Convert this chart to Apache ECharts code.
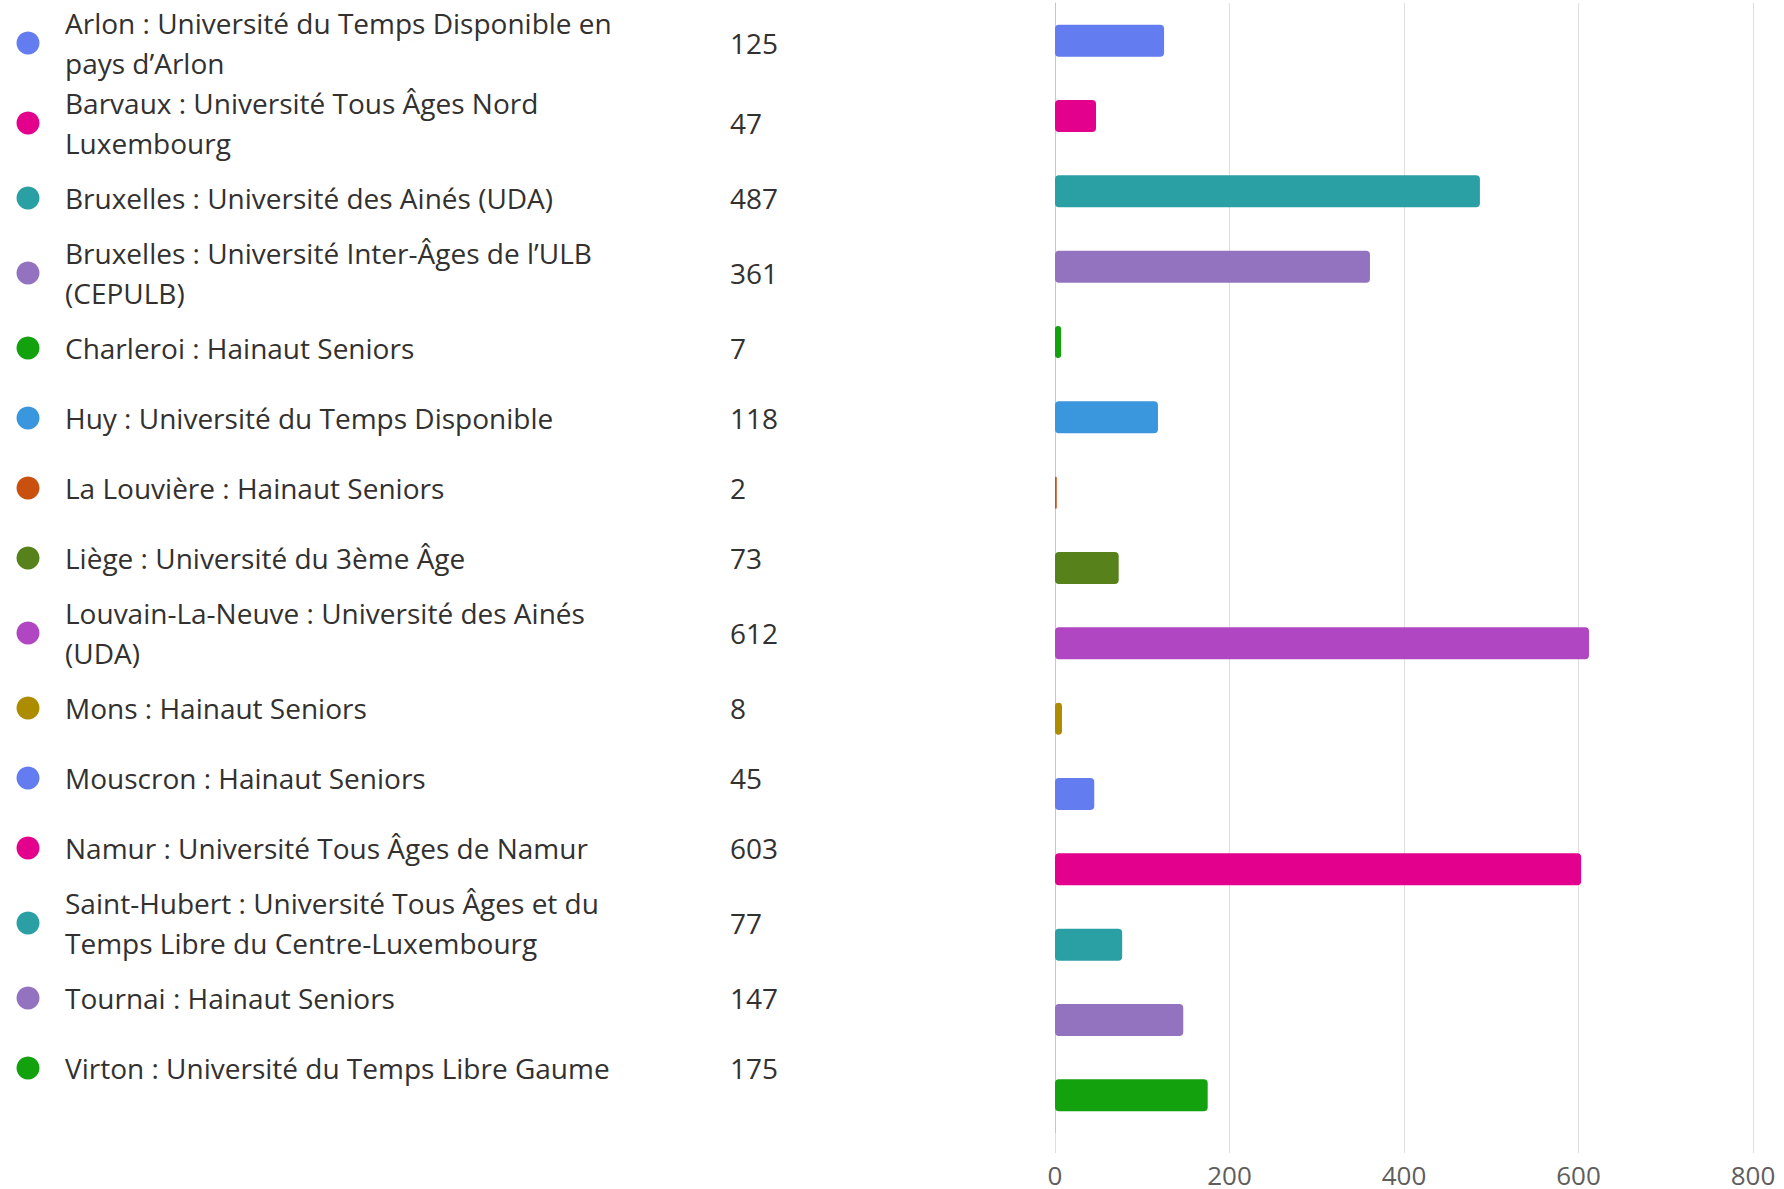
<!DOCTYPE html>
<html>
<head>
<meta charset="utf-8">
<script src="https://cdn.jsdelivr.net/npm/echarts@6/dist/echarts.min.js"></script>
<style>
html, body { margin: 0; padding: 0; background: #fff; }
#chart { width: 1784px; height: 1189px; }
</style>
</head>
<body>
<div id="chart"></div>
<script>
// noms des établissements (retours à la ligne comme dans l'original)
var categories = [
	'Arlon : Université du Temps Disponible en\npays d’Arlon',
	'Barvaux : Université Tous Âges Nord\nLuxembourg',
	'Bruxelles : Université des Ainés (UDA)',
	'Bruxelles : Université Inter-Âges de l’ULB\n(CEPULB)',
	'Charleroi : Hainaut Seniors',
	'Huy : Université du Temps Disponible',
	'La Louvière : Hainaut Seniors',
	'Liège : Université du 3ème Âge',
	'Louvain-La-Neuve : Université des Ainés\n(UDA)',
	'Mons : Hainaut Seniors',
	'Mouscron : Hainaut Seniors',
	'Namur : Université Tous Âges de Namur',
	'Saint-Hubert : Université Tous Âges et du\nTemps Libre du Centre-Luxembourg',
	'Tournai : Hainaut Seniors',
	'Virton : Université du Temps Libre Gaume'
];
var values = [125, 47, 487, 361, 7, 118, 2, 73, 612, 8, 45, 603, 77, 147, 175];
var colors = ['#637cef', '#e3008c', '#2aa0a4', '#9373c0', '#13a10e', '#3a96dd', '#ca5010',
	'#57811b', '#b146c2', '#ae8c00', '#637cef', '#e3008c', '#2aa0a4', '#9373c0', '#13a10e'];
var axisTicks = [0, 200, 400, 600, 800];

var FONT = '"Open Sans", "Noto Sans", sans-serif';
var TEXT_COLOR = '#323130';

var myChart = echarts.init(document.getElementById('chart'), null, {renderer: 'svg'});

// légende à gauche : pastille, nom, valeur
function buildLegend() {
	var items = [];
	var rowTop = 3;
	for (var i = 0; i < categories.length; i++) {
		var lines = categories[i].split('\n').length;
		var h = lines > 1 ? 80 : 70;
		var cy = rowTop + h / 2;
		items.push({
			type: 'circle',
			shape: {cx: 28, cy: cy, r: 11.5},
			style: {fill: colors[i]}
		});
		items.push({
			type: 'text',
			x: 65, y: cy,
			style: {
				text: categories[i],
				font: '28px ' + FONT,
				fill: TEXT_COLOR,
				lineHeight: 40,
				verticalAlign: 'middle',
				align: 'left'
			}
		});
		items.push({
			type: 'text',
			x: 730, y: cy,
			style: {
				text: String(values[i]),
				font: '28px ' + FONT,
				fill: TEXT_COLOR,
				verticalAlign: 'middle',
				align: 'left'
			}
		});
		rowTop += h;
	}
	return items;
}

var barData = [];
for (var j = 0; j < values.length; j++) {
	barData.push({value: values[j], itemStyle: {color: colors[j]}});
}

var option = {
	animation: false,
	textStyle: {fontFamily: FONT},
	grid: {left: 1055, right: 31, top: 3, bottom: 56, containLabel: false},
	xAxis: {
		type: 'value',
		min: axisTicks[0],
		max: axisTicks[axisTicks.length - 1],
		interval: axisTicks[1] - axisTicks[0],
		axisLine: {show: false},
		axisTick: {show: true, length: 20, lineStyle: {color: '#e1dfdd'}},
		splitLine: {show: true, lineStyle: {color: '#e1dfdd', width: 1}},
		axisLabel: {color: '#605e5c', fontSize: 26, lineHeight: 28, margin: 28, fontFamily: FONT}
	},
	yAxis: {
		type: 'category',
		inverse: true,
		data: categories,
		axisLine: {show: true, lineStyle: {color: '#c8c6c4'}},
		axisTick: {show: false},
		axisLabel: {show: false}
	},
	series: [{
		type: 'bar',
		data: barData,
		barWidth: 32,
		itemStyle: {borderRadius: 4}
	}],
	graphic: buildLegend()
};
myChart.setOption(option);
</script>
</body>
</html>
